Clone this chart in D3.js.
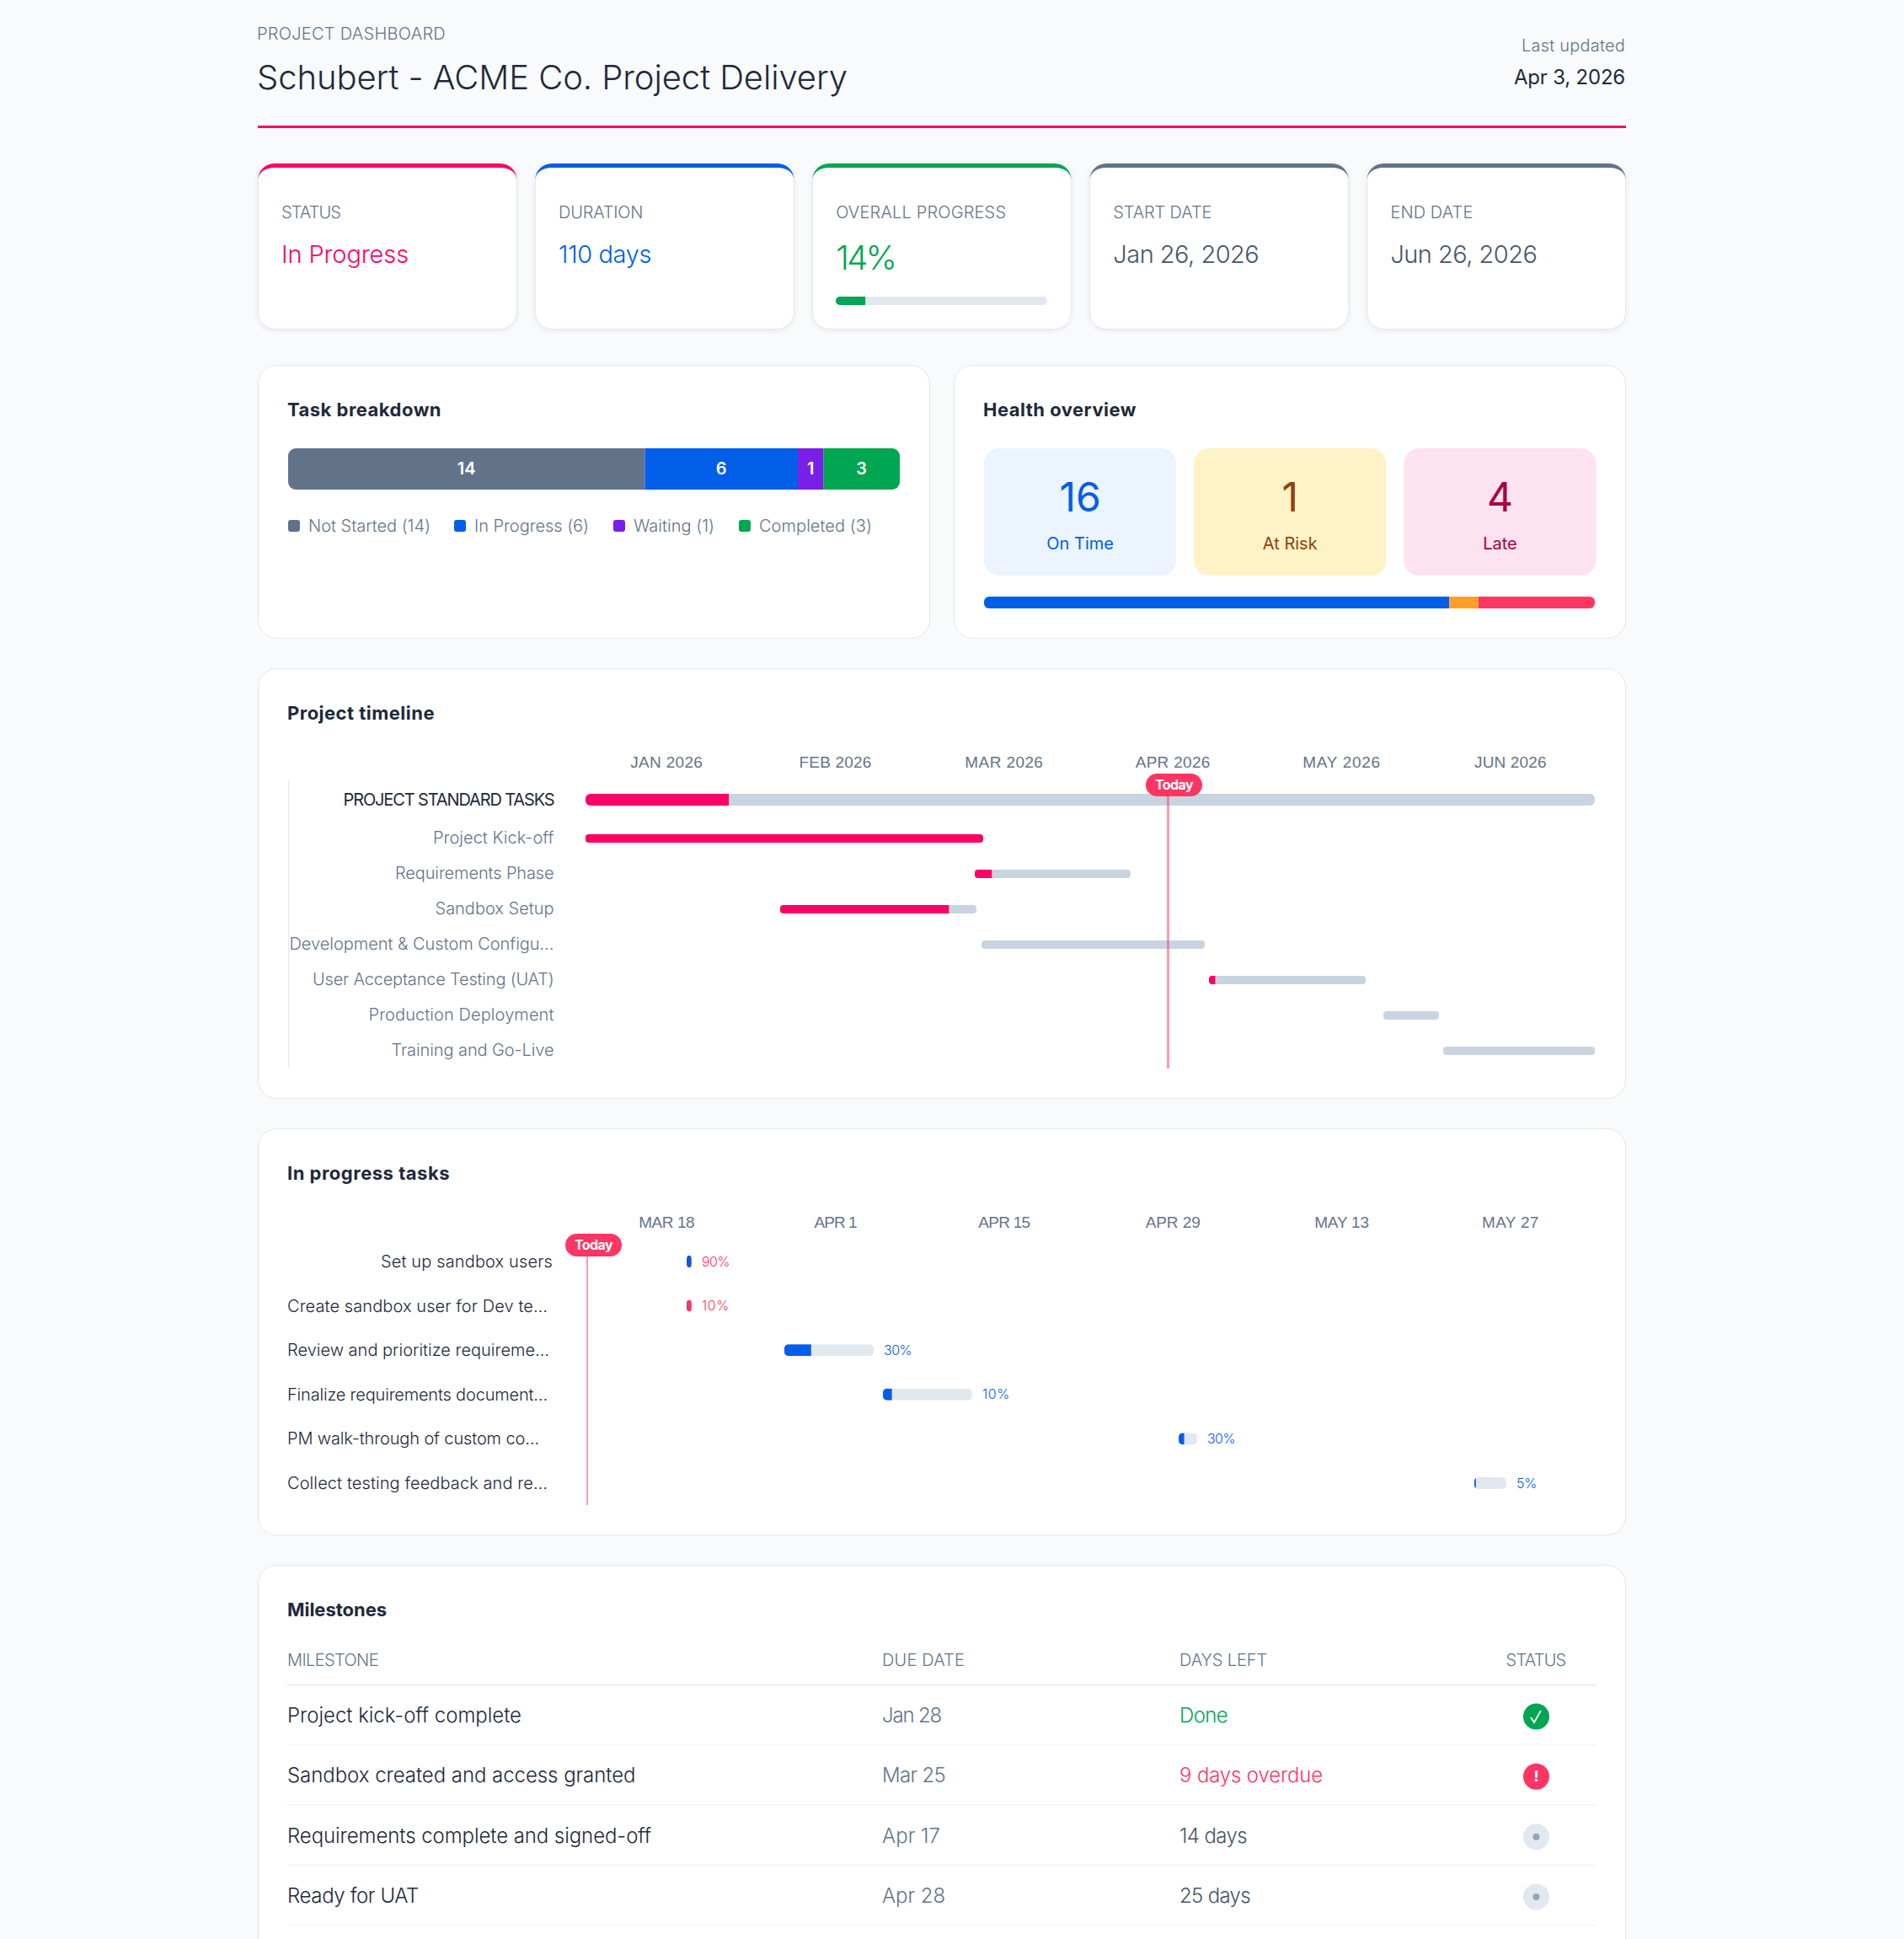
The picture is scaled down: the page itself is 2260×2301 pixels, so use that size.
<!DOCTYPE html>
<html lang="en">
<head>
<meta charset="utf-8">
<title>Schubert - ACME Co. Project Delivery</title>
<script src="https://cdn.jsdelivr.net/npm/d3@7/dist/d3.min.js"></script>
<style>
  html, body { margin: 0; padding: 0; background: #f8fafc; overflow: hidden; }
  svg { display: block; font-family: "Inter", "Noto Sans", sans-serif; }
</style>
</head>
<body>
<svg id="dash" width="2260" height="2301"></svg>
<script>
// ---- Summary cards ----
const cardLabels = ["STATUS", "DURATION", "OVERALL PROGRESS", "START DATE", "END DATE"];
const cardValues = ["In Progress", "110 days", "14%", "Jan 26, 2026", "Jun 26, 2026"];
const overallProgress = 14;

// ---- Task breakdown ----
const taskStatuses = ["Not Started", "In Progress", "Waiting", "Completed"];
const taskCounts = [14, 6, 1, 3];

// ---- Health overview ----
const healthLabels = ["On Time", "At Risk", "Late"];
const healthCounts = [16, 1, 4];

// ---- Project timeline (positions as percent of the plan window) ----
const timelineMonths = ["JAN 2026", "FEB 2026", "MAR 2026", "APR 2026", "MAY 2026", "JUN 2026"];
const timelineNames = ["PROJECT STANDARD TASKS", "Project Kick-off", "Requirements Phase", "Sandbox Setup",
  "Development & Custom Configu…", "User Acceptance Testing (UAT)", "Production Deployment", "Training and Go-Live"];
const timelineStart = [0, 0, 38.56, 19.28, 39.23, 61.77, 79.05, 84.98];
const timelineEnd = [100, 39.4, 54.0, 38.73, 61.35, 77.3, 84.56, 100];
const timelineDone = [14.2, 100, 11, 86, 0, 4, 0, 0];
const timelineToday = 57.72;

// ---- In progress tasks (positions as days into the 12-week window) ----
const windowTicks = ["MAR 18", "APR 1", "APR 15", "APR 29", "MAY 13", "MAY 27"];
const activeNames = ["Set up sandbox users", "Create sandbox user for Dev te…", "Review and prioritize requireme…",
  "Finalize requirements document…", "PM walk-through of custom co…", "Collect testing feedback and re…"];
const activeStart = [8.67, 8.67, 16.77, 24.95, 49.48, 74.0];
const activeEnd = [9.08, 9.08, 24.18, 32.35, 51.01, 76.66];
const activePercent = [90, 10, 30, 10, 30, 5];
const activeOverdue = [true, true, false, false, false, false];
const activeToday = 0.42;

// ---- Milestones ----
const milestoneColumns = ["MILESTONE", "DUE DATE", "DAYS LEFT", "STATUS"];
const milestoneNames = ["Project kick-off complete", "Sandbox created and access granted",
  "Requirements complete and signed-off", "Ready for UAT"];
const milestoneDue = ["Jan 28", "Mar 25", "Apr 17", "Apr 28"];
const milestoneLeft = ["Done", "9 days overdue", "14 days", "25 days"];
const milestoneState = ["done", "late", "open", "open"];

// ---- Palette ----
const C = {
  bg: "#f8fafc", line: "#e2e8f0", ink: "#1e293b", slate: "#64748b", mid: "#475569",
  pink: "#ff0066", blue: "#005ee9", green: "#00a651", purple: "#7a1fe8", steel: "#627389",
  orange: "#ff9f29", red: "#ff3563", track: "#c8d4e0", soft: "#e2e8f0", dot: "#94a3b8"
};

const svg = d3.select("#dash");
let clipSeq = 0;

// Writes one text; `w` stretches its letter-spacing to reach a set width.
function label(parent, str, x, y, o = {}) {
  const t = parent.append("text").attr("x", x).attr("y", y).text(str)
    .attr("font-size", o.size || 20).attr("font-weight", o.weight || 350)
    .attr("fill", o.fill || C.slate).attr("text-anchor", o.anchor || "start");
  if (o.w) {
    const natural = t.node().getComputedTextLength();
    t.attr("letter-spacing", ((o.w - natural) / String(str).length).toFixed(3));
  }
  return t;
}

function panel(x, y, w, h, title) {
  const g = svg.append("g");
  g.append("rect").attr("x", x + .5).attr("y", y + .5).attr("width", w - 1).attr("height", h - 1)
    .attr("rx", 22).attr("fill", "#fff").attr("stroke", C.line);
  if (title) label(g, title.text, x + 35, title.base, { size: 22, weight: 700, fill: C.ink, w: title.w });
  return g;
}

// A horizontal run of segments clipped to one rounded outline.
function clipped(parent, x, y, w, h, r) {
  const id = "clip" + (++clipSeq);
  svg.append("clipPath").attr("id", id).append("rect")
    .attr("x", x).attr("y", y).attr("width", w).attr("height", h).attr("rx", r);
  return parent.append("g").attr("clip-path", `url(#${id})`);
}

// ---- Header ----
label(svg, "PROJECT DASHBOARD", 305, 46.5, { size: 20, w: 224 });
label(svg, "Schubert - ACME Co. Project Delivery", 305, 106, { size: 40, weight: 350, fill: C.ink, w: 701 });
label(svg, "Last updated", 1929, 60.5, { size: 20, anchor: "end", w: 123 });
label(svg, "Apr 3, 2026", 1929, 99.5, { size: 24, weight: 400, fill: C.ink, anchor: "end", w: 132 });
svg.append("rect").attr("x", 306).attr("y", 149).attr("width", 1624).attr("height", 3).attr("fill", C.pink);

// ---- Summary cards ----
const cardX = d3.scaleBand().domain(cardLabels).range([306, 1930]).paddingInner(0.0653).paddingOuter(0);
const cardAccents = [C.pink, C.blue, C.green, C.steel, C.steel];
const cardValueColors = [C.pink, C.blue, C.green, C.mid, C.mid];
const cardLabelWidths = [70, 100, 202, 117, 98];
const cardValueWidths = [151, 110, 70, 173, 174];
const cardTop = 194, cardH = 197;
cardLabels.forEach((name, i) => {
  const x = cardX(name), w = cardX.bandwidth(), r = 20;
  const g = svg.append("g").style("filter", "drop-shadow(0 1px 3px rgba(15,23,42,.08))");
  g.append("rect").attr("x", x + .5).attr("y", cardTop + .5).attr("width", w - 1).attr("height", cardH - 1)
    .attr("rx", r).attr("fill", "#fff").attr("stroke", C.line);
  g.append("path").attr("fill", cardAccents[i]).attr("d",
    `M${x},${cardTop + r}A${r},${r} 0 0 1 ${x + r},${cardTop}H${x + w - r}A${r},${r} 0 0 1 ${x + w},${cardTop + r}` +
    `A${r - 1},${r - 5} 0 0 0 ${x + w - r},${cardTop + 5}H${x + r}A${r - 1},${r - 5} 0 0 0 ${x},${cardTop + r}Z`);
  label(svg, name, x + 28, 259, { size: 20, w: cardLabelWidths[i] });
  const big = i === 2;
  label(svg, cardValues[i], x + 28, big ? 320 : 312, { size: big ? 40 : 29, fill: cardValueColors[i], w: cardValueWidths[i] });
});
const overallScale = d3.scaleLinear().domain([0, 100]).range([0, 251]);
const ovTrack = clipped(svg, 992, 352, overallScale(100), 10, 5);
ovTrack.append("rect").attr("x", 992).attr("y", 352).attr("width", overallScale(100)).attr("height", 10).attr("fill", C.soft);
ovTrack.append("rect").attr("x", 992).attr("y", 352).attr("width", overallScale(overallProgress)).attr("height", 10).attr("fill", C.green);

// ---- Task breakdown ----
const tb = panel(306, 433, 798, 325, { text: "Task breakdown", base: 494, w: 183 });
const taskColors = [C.steel, C.blue, C.purple, C.green];
const taskX = d3.scaleLinear().domain([0, d3.sum(taskCounts)]).range([342, 1068]);
const taskStack = clipped(tb, 342, 532, 726, 49, 9);
let run = 0;
taskCounts.forEach((n, i) => {
  taskStack.append("rect").attr("x", taskX(run)).attr("y", 532)
    .attr("width", taskX(run + n) - taskX(run)).attr("height", 49).attr("fill", taskColors[i]);
  label(tb, n, taskX(run + n / 2), 563, { size: 20, weight: 600, fill: "#fff", anchor: "middle" });
  run += n;
});
const legendSwatch = [342, 539, 728, 877];
const legendWidths = [145, 136, 96, 134];
taskStatuses.forEach((s, i) => {
  tb.append("rect").attr("x", legendSwatch[i]).attr("y", 617).attr("width", 14).attr("height", 14).attr("rx", 3).attr("fill", taskColors[i]);
  label(tb, `${s} (${taskCounts[i]})`, legendSwatch[i] + 24, 630.5, { size: 20, w: legendWidths[i] });
});

// ---- Health overview ----
const hp = panel(1132, 433, 798, 325, { text: "Health overview", base: 494, w: 182 });
const healthTint = ["#ebf4ff", "#fef3c7", "#fde2f0"];
const healthInk = [C.blue, "#92400e", "#a8003e"];
const healthX = d3.scaleBand().domain(healthLabels).range([1168, 1894.5]).paddingInner(0.0843);
healthLabels.forEach((s, i) => {
  const x = healthX(s), w = healthX.bandwidth();
  hp.append("rect").attr("x", x).attr("y", 532).attr("width", w).attr("height", 151).attr("rx", 18).attr("fill", healthTint[i]);
  label(hp, healthCounts[i], x + w / 2, 606.5, { size: 48, weight: 400, fill: healthInk[i], anchor: "middle" });
  label(hp, s, x + w / 2, 652, { size: 20, weight: 400, fill: healthInk[i], anchor: "middle" });
});
const healthBar = d3.scaleLinear().domain([0, d3.sum(healthCounts)]).range([1168, 1893]);
const healthColors = [C.blue, C.orange, C.red];
const healthRun = clipped(hp, 1168, 708, 725, 14, 6);
run = 0;
healthCounts.forEach((n, i) => {
  healthRun.append("rect").attr("x", healthBar(run)).attr("y", 708)
    .attr("width", healthBar(run + n) - healthBar(run)).attr("height", 14).attr("fill", healthColors[i]);
  run += n;
});

// Today marker shared by both gantt panels.
function todayMarker(g, x, y0, y1, bx, by, sw) {
  g.append("line").attr("x1", x).attr("x2", x).attr("y1", y0).attr("y2", y1)
    .attr("stroke", C.red).attr("stroke-opacity", 0.5).attr("stroke-width", sw);
  g.append("rect").attr("x", bx).attr("y", by).attr("width", 67).attr("height", 27).attr("rx", 13.5).attr("fill", C.red);
  label(g, "Today", bx + 33.5, by + 19, { size: 16, weight: 700, fill: "#fff", anchor: "middle", w: 45 });
}

function monthAxis(g, band, base, widths) {
  const ax = g.append("g").attr("transform", `translate(0,${base})`)
    .call(d3.axisTop(band).tickSize(0).tickPadding(0));
  ax.select(".domain").remove();
  ax.selectAll("text").attr("font-family", null).attr("font-size", 19).attr("font-weight", 350)
    .attr("fill", C.slate)
    .attr("letter-spacing", function (d, i) {
      return ((widths[i] - this.getComputedTextLength()) / d.length).toFixed(3);
    });
}

// ---- Project timeline ----
const tl = panel(306, 793, 1624, 511, { text: "Project timeline", base: 854, w: 175 });
monthAxis(tl, d3.scaleBand().domain(timelineMonths).range([691, 1893]), 911, [86, 86, 93, 89, 92.5, 85.5]);
const tlX = d3.scaleLinear().domain([0, 100]).range([695, 1893]);
const tlY = d3.scalePoint().domain(timelineNames.slice(1)).range([995, 1247]);
tl.append("line").attr("x1", 342.5).attr("x2", 342.5).attr("y1", 925).attr("y2", 1268).attr("stroke", C.line);
const tlWidths = [250, 143.5, 188.5, 141, 314, 286.5, 220, 193];
timelineNames.forEach((name, i) => {
  const first = i === 0, h = first ? 14 : 10;
  const cy = first ? 949 : tlY(name);
  const x0 = tlX(timelineStart[i]), x1 = tlX(timelineEnd[i]);
  const row = clipped(tl, x0, cy - h / 2, x1 - x0, h, first ? 6 : 4);
  row.append("rect").attr("x", x0).attr("y", cy - h / 2).attr("width", x1 - x0).attr("height", h).attr("fill", C.track);
  row.append("rect").attr("x", x0).attr("y", cy - h / 2).attr("width", (x1 - x0) * timelineDone[i] / 100).attr("height", h).attr("fill", C.pink);
  label(tl, name, 657.5, first ? 956 : cy + 6, { size: 20, weight: first ? 400 : 350, fill: first ? C.ink : C.slate, anchor: "end", w: tlWidths[i] });
});
todayMarker(tl, tlX(timelineToday), 945, 1268, 1360, 918, 3);

// ---- In progress tasks ----
const ip = panel(306, 1339, 1624, 483, { text: "In progress tasks", base: 1400, w: 193 });
monthAxis(ip, d3.scaleBand().domain(windowTicks).range([691, 1893]), 1457, [66, 50, 61, 65, 64.5, 67.5]);
const ipX = d3.scaleLinear().domain([0, 84]).range([691, 1893]);
const ipY = d3.scalePoint().domain(activeNames).range([1497, 1760]);
const ipWidths = [204, 309, 311, 309, 299, 309];
activeNames.forEach((name, i) => {
  const cy = ipY(name), x0 = ipX(activeStart[i]), x1 = ipX(activeEnd[i]), w = x1 - x0;
  const row = clipped(ip, x0, cy - 7, w, 14, 5);
  row.append("rect").attr("x", x0).attr("y", cy - 7).attr("width", w).attr("height", 14)
    .attr("fill", activeOverdue[i] ? C.red : C.soft);
  row.append("rect").attr("x", x0).attr("y", cy - 7).attr("width", w * activePercent[i] / 100).attr("height", 14).attr("fill", C.blue);
  label(ip, `${activePercent[i]}%`, x1 + 12, cy + 5.5, { size: 16, fill: activeOverdue[i] ? C.red : C.blue, w: i === 5 ? 24 : 33 });
  const right = i === 0;
  label(ip, name, right ? 656 : 341, cy + 7, { size: 20, fill: C.ink, anchor: right ? "end" : "start", w: ipWidths[i] });
});
todayMarker(ip, ipX(activeToday), 1491, 1786, 671, 1464, 2);

// ---- Milestones ----
const ms = panel(306, 1857, 1624, 500, { text: "Milestones", base: 1918, w: 118 });
const colX = [341, 1047, 1400];
const colW = [108, 98, 104];
milestoneColumns.slice(0, 3).forEach((c, i) => label(ms, c, colX[i], 1977, { size: 20, w: colW[i] }));
label(ms, milestoneColumns[3], 1823, 1977, { size: 20, anchor: "middle", w: 71 });
ms.append("line").attr("x1", 341).attr("x2", 1894).attr("y1", 1999.5).attr("y2", 1999.5).attr("stroke", C.line).attr("stroke-width", 1.5);
const msY = d3.scalePoint().domain(milestoneNames).range([2037, 2251]);
const nameW = [278, 413.5, 432, 156], dueW = [70, 75, 69, 75], leftW = [57, 170, 80, 84];
const leftInk = { done: C.green, late: C.red, open: C.mid };
const badgeFill = { done: C.green, late: C.red, open: C.soft };
milestoneNames.forEach((name, i) => {
  const cy = msY(name), base = cy + 7, st = milestoneState[i];
  label(ms, name, 341, base, { size: 24, fill: C.ink, w: nameW[i] });
  label(ms, milestoneDue[i], 1047, base, { size: 24, fill: C.slate, w: dueW[i] });
  label(ms, milestoneLeft[i], 1400, base, { size: 24, fill: leftInk[st], w: leftW[i] });
  ms.append("line").attr("x1", 341).attr("x2", 1894).attr("y1", cy + 33.5).attr("y2", cy + 33.5).attr("stroke", "#f1f5f9").attr("stroke-width", 1.5);
  ms.append("circle").attr("cx", 1823.5).attr("cy", cy).attr("r", 15.5).attr("fill", badgeFill[st]);
  if (st === "done") ms.append("path").attr("d", `M1817,${cy + 1}L1821,${cy + 7}L1829,${cy - 7}`).attr("fill", "none").attr("stroke", "#fff").attr("stroke-width", 1.8);
  else if (st === "late") label(ms, "!", 1823.5, cy + 6, { size: 18, weight: 700, fill: "#fff", anchor: "middle" });
  else ms.append("circle").attr("cx", 1823.5).attr("cy", cy).attr("r", 4).attr("fill", C.dot);
});
</script>
</body>
</html>
